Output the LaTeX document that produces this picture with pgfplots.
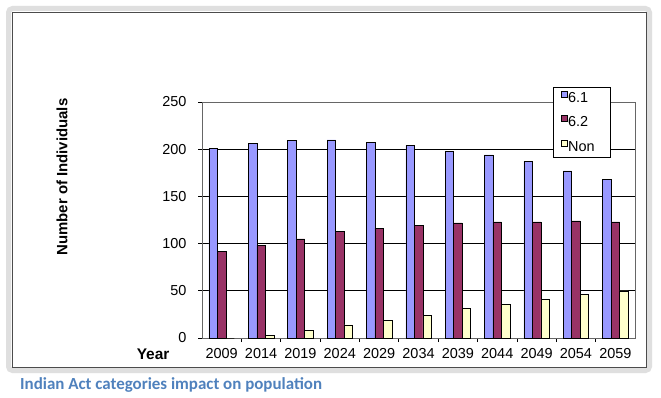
\documentclass[border=0pt]{standalone}
\usepackage{pgfplots}
\pgfplotsset{compat=1.18}
\usepackage{fontspec}
\setmainfont{Liberation Sans}
\newfontfamily\carlito{Carlito}
\definecolor{c61}{HTML}{9999FF}
\definecolor{c62}{HTML}{993366}
\definecolor{cnon}{HTML}{FFFFCC}
\definecolor{ttl}{HTML}{4F81BD}
\begin{document}
\begin{tikzpicture}[x=1bp,y=1bp]
\path[fill=white] (0,0) rectangle (661,397);
\draw[gray!25, line width=5bp, rounded corners=4bp] (8.5,388.5) rectangle (649.5,26.5);
\draw[gray!60!black, line width=1bp] (12.5,384.5) -- (646,384.5) -- (646,29.5) -- (12.5,29.5) -- cycle;
\begin{axis}[
  at={(202bp,59bp)}, anchor=south west,
  scale only axis, width=433bp, height=236bp,
  ybar=0pt, bar width=8.5bp,
  xmin=-0.5, xmax=10.5, ymin=0, ymax=250,
  xtick={0,...,10},
  xticklabels={2009,2014,2019,2024,2029,2034,2039,2044,2049,2054,2059},
  major x tick style={draw=none},
  minor xtick={0.5,1.5,...,9.5},
  ytick={0,50,...,250},
  ymajorgrids, grid style={black, line width=0.8bp},
  tick align=outside, tick pos=left,
  major tick length=4bp, minor tick length=4bp,
  axis line style={gray!80!black, line width=0.8bp},
  tick style={black, line width=0.8bp},
  tick label style={font=\fontsize{14.5}{16}\selectfont},
  xticklabel style={yshift=-3bp},
  yticklabel style={xshift=-8bp},
  /pgf/number format/assume math mode=true,
  ylabel={\bfseries Number of Individuals},
  ylabel style={at={(axis description cs:-0.323,0.682)}, anchor=center, font=\fontsize{15}{16}\selectfont},
  xlabel={\bfseries Year},
  xlabel style={at={(axis description cs:-0.113,-0.068)}, anchor=center, font=\fontsize{15.5}{16}\selectfont},
  legend style={at={(rel axis cs:0.811,1.0636)}, anchor=north west, draw=black, fill=white,
    line width=0.8bp, inner sep=3bp, row sep=9.5bp,
    font=\fontsize{14.5}{16}\selectfont,
    nodes={inner xsep=1bp, inner ysep=0bp, text height=12bp, text depth=3bp}},
  legend cell align=left,
]
\addplot[fill=c61, draw=black, line width=0.5bp,
  legend image code/.code={\path (0bp,0bp); \draw[fill=c61,draw=black,line width=0.5bp] (4bp,1bp) rectangle (10bp,7bp);}]
  coordinates {(0,201) (1,206) (2,209) (3,210) (4,207) (5,204) (6,198) (7,194) (8,187) (9,177) (10,168)};
\addplot[fill=c62, draw=black, line width=0.5bp,
  legend image code/.code={\path (0bp,0bp); \draw[fill=c62,draw=black,line width=0.5bp] (4bp,1bp) rectangle (10bp,7bp);}]
  coordinates {(0,92) (1,98) (2,105) (3,113) (4,116) (5,119) (6,122) (7,123) (8,123) (9,124) (10,123)};
\addplot[fill=cnon, draw=black, line width=0.5bp,
  legend image code/.code={\path (0bp,0bp); \draw[fill=cnon,draw=black,line width=0.5bp] (4bp,1bp) rectangle (10bp,7bp);}]
  coordinates {(0,0) (1,3) (2,8) (3,14) (4,19) (5,24) (6,31) (7,36) (8,41) (9,46) (10,50)};
\addlegendentry{\makebox[38bp][l]{6.1}}
\addlegendentry{\makebox[38bp][l]{6.2}}
\addlegendentry{\makebox[38bp][l]{Non}}
\end{axis}
\node[anchor=west, inner sep=0pt, text=ttl, font=\carlito\bfseries\fontsize{17}{20}\selectfont] at (20bp,12bp) {Indian Act categories impact on population};
\end{tikzpicture}
\end{document}
